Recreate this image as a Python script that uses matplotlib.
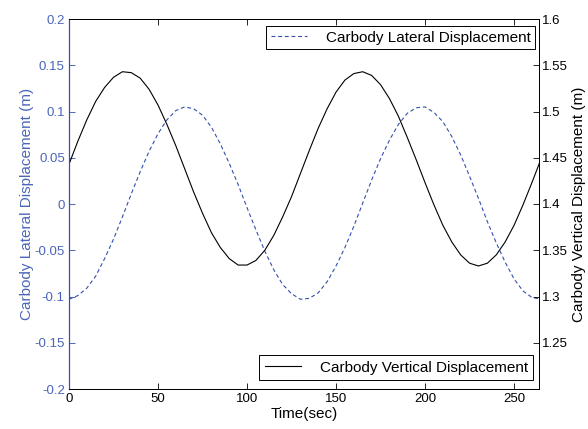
import numpy as np
import matplotlib.pyplot as plt

plt.rcParams['font.family'] = ['Liberation Sans', 'DejaVu Sans']

# --- Daten (alle 5 s) ---
zeit = np.arange(0, 270, 5)

lateral = [
    -0.103, -0.099, -0.091, -0.078, -0.059, -0.038, -0.014, 0.011, 0.035, 0.057,
    0.076, 0.091, 0.101, 0.105, 0.103, 0.096, 0.083, 0.065, 0.044, 0.021,
    -0.004, -0.028, -0.051, -0.071, -0.087, -0.097, -0.103, -0.102, -0.096, -0.084,
    -0.067, -0.047, -0.024, 0.001, 0.026, 0.049, 0.069, 0.086, 0.098, 0.104,
    0.105, 0.099, 0.089, 0.073, 0.053, 0.030, 0.006, -0.019, -0.042, -0.063,
    -0.081, -0.094, -0.101, -0.103,
]

vertikal = [
    1.443, 1.468, 1.491, 1.511, 1.526, 1.537, 1.543, 1.542, 1.536, 1.524,
    1.507, 1.486, 1.463, 1.438, 1.413, 1.390, 1.369, 1.353, 1.341, 1.334,
    1.334, 1.339, 1.350, 1.366, 1.386, 1.408, 1.433, 1.458, 1.482, 1.503,
    1.521, 1.534, 1.541, 1.543, 1.539, 1.529, 1.514, 1.495, 1.472, 1.448,
    1.423, 1.399, 1.377, 1.359, 1.345, 1.336, 1.333, 1.336, 1.345, 1.359,
    1.377, 1.399, 1.423, 1.448,
]

BLAU = "#3550ac"
BLAU_TEXT = "#4a66b8"

fig = plt.figure(figsize=(5.88, 4.29), dpi=100)
ax1 = fig.add_axes([69 / 588, 40 / 429, 470 / 588, 370 / 429])
ax2 = ax1.twinx()

l1, = ax1.plot(zeit, lateral, color=BLAU, lw=0.8, dashes=(3.5, 2.5),
               label="Carbody Lateral Displacement")
l2, = ax2.plot(zeit, vertikal, color="black", lw=0.8,
               label="Carbody Vertical Displacement")

ax1.set_xlim(0, 264)
ax1.set_ylim(-0.2, 0.2)
ax1.set_yticks(np.arange(-0.2, 0.201, 0.05))
ax1.set_yticklabels(["-0.2", "-0.15", "-0.1", "-0.05", "0", "0.05", "0.1", "0.15", "0.2"])
ax1.set_xticks([0, 50, 100, 150, 200, 250])
ax2.set_ylim(1.2, 1.6)
ax2.set_yticks([1.25, 1.3, 1.35, 1.4, 1.45, 1.5, 1.55, 1.6])
ax2.set_yticklabels(["1.25", "1.3", "1.35", "1.4", "1.45", "1.5", "1.55", "1.6"])

ax1.tick_params(axis="x", direction="in", length=4, width=0.6, top=True,
                labelsize=9.5, colors="black", pad=3)
ax1.tick_params(axis="y", direction="in", length=4, width=0.6,
                labelsize=9.5, colors=BLAU, labelcolor=BLAU_TEXT, pad=3)
ax2.tick_params(axis="y", direction="in", length=4, width=0.6,
                labelsize=9.5, colors="black", pad=2)

for sp in ["top", "bottom", "right"]:
    ax1.spines[sp].set_color("black")
    ax2.spines[sp].set_color("black")
    ax1.spines[sp].set_linewidth(0.7)
    ax2.spines[sp].set_linewidth(0.7)
ax1.spines["left"].set_color(BLAU)
ax2.spines["left"].set_color(BLAU)
ax1.spines["left"].set_linewidth(0.8)
ax2.spines["left"].set_linewidth(0.8)

ax1.set_xlabel("Time(sec)", fontsize=11, labelpad=1)
ax1.set_ylabel("Carbody Lateral Displacement (m)", fontsize=11, color=BLAU_TEXT, labelpad=0.5)
ax2.set_ylabel("Carbody Vertical Displacement (m)", fontsize=11, labelpad=3)

leg1 = ax1.legend(handles=[l1], loc="upper right", bbox_to_anchor=((535 - 69) / 470, 1 - 7 / 370),
                  bbox_transform=ax1.transAxes, fontsize=11, frameon=True, fancybox=False,
                  edgecolor="black", handlelength=2.4, borderpad=0.3, handletextpad=1.2,
                  borderaxespad=0, framealpha=1)
leg1.get_frame().set_linewidth(0.7)
leg2 = ax2.legend(handles=[l2], loc="lower right", bbox_to_anchor=((533 - 69) / 470, 9 / 370),
                  bbox_transform=ax1.transAxes, fontsize=11, frameon=True, fancybox=False,
                  edgecolor="black", handlelength=2.4, borderpad=0.35, handletextpad=1.2,
                  borderaxespad=0, framealpha=1)
leg2.get_frame().set_linewidth(0.7)

fig.savefig("out.png", dpi=100)
